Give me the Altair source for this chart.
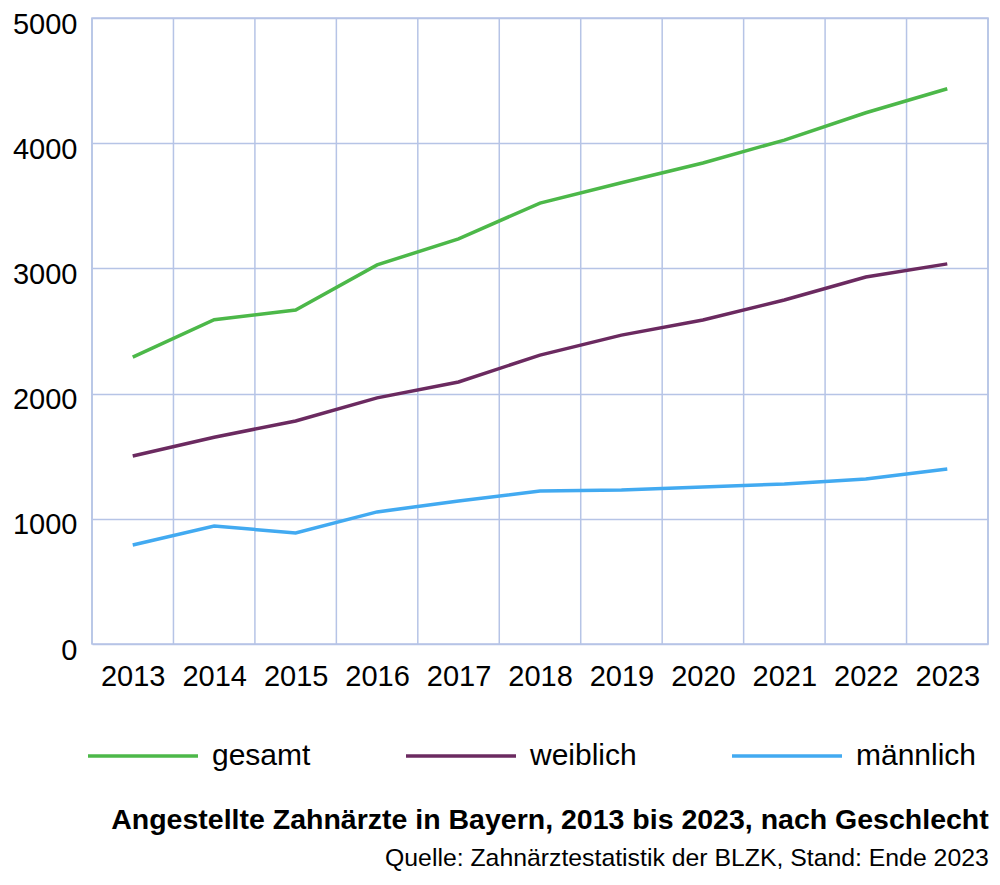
import altair as alt
import pandas as pd

years = [2013, 2014, 2015, 2016, 2017, 2018, 2019, 2020, 2021, 2022, 2023]
gesamt = [2292, 2590, 2668, 3028, 3236, 3522, 3684, 3842, 4025, 4243, 4435]
weiblich = [1502, 1652, 1781, 1966, 2093, 2307, 2467, 2588, 2748, 2931, 3036]
maennlich = [791, 942, 887, 1055, 1142, 1222, 1230, 1254, 1278, 1318, 1398]

series_names = ["gesamt", "weiblich", "männlich"]
series_colors = ["#4cb849", "#6b2a60", "#42aaf1"]

rows = []
for name, vals in zip(series_names, [gesamt, weiblich, maennlich]):
    for y, v in zip(years, vals):
        rows.append({"Jahr": y, "Wert": v, "Serie": name})
df = pd.DataFrame(rows)
grid_df = pd.DataFrame({"Jahr": years + [years[-1] + 1]})

FONT = "Liberation Sans"
GRID = "#b6c4e6"
FS = 29

xscale = alt.Scale(domain=[years[0] - 0.5, years[-1] + 0.5], nice=False, zero=False)
yscale = alt.Scale(domain=[0, 5000], nice=False)
xaxis = alt.Axis(values=years, format="d", title=None, grid=False,
                 ticks=False, domain=False, labelFontSize=FS,
                 labelPadding=18, labelColor="#000", labelFont=FONT)

grid = alt.Chart(grid_df).transform_calculate(
    b="datum.Jahr - 0.5"
).mark_rule(color=GRID, strokeWidth=1.5).encode(
    x=alt.X("b:Q", scale=xscale, axis=xaxis)
)

lines = alt.Chart(df).mark_line(strokeWidth=3.5).encode(
    x=alt.X("Jahr:Q", scale=xscale, axis=xaxis),
    y=alt.Y("Wert:Q", scale=yscale,
            axis=alt.Axis(values=[0, 1000, 2000, 3000, 4000, 5000], format="d",
                          title=None, grid=True, gridColor=GRID, gridWidth=1.5,
                          ticks=False, domain=False, labelFontSize=FS,
                          labelPadding=15, labelOffset=6, labelColor="#000",
                          labelFont=FONT)),
    color=alt.Color("Serie:N", sort=series_names,
                    scale=alt.Scale(domain=series_names, range=series_colors),
                    legend=alt.Legend(title=None, orient="none", direction="horizontal",
                                      legendX=-6, legendY=681,
                                      symbolType="stroke", symbolSize=12100,
                                      symbolStrokeWidth=3.5, labelFontSize=30,
                                      labelFont=FONT, labelColor="#000",
                                      labelOffset=12, columnPadding=88,
                                      padding=0)),
    detail="Serie:N",
)

chart = alt.layer(grid, lines).properties(
    width=896,
    height=626,
    autosize=alt.AutoSizeParams(type="none"),
    padding={"left": 84, "top": 10, "right": 4, "bottom": 233},
    title=alt.TitleParams(
        text="Angestellte Zahnärzte in Bayern, 2013 bis 2023, nach Geschlecht",
        subtitle="Quelle: Zahnärztestatistik der BLZK, Stand: Ende 2023",
        orient="bottom", anchor="end", font=FONT, fontSize=28.5, fontWeight="bold",
        subtitleFont=FONT, subtitleFontSize=24.8, subtitleColor="#000",
        color="#000", offset=35, subtitlePadding=11,
    ),
).configure_view(stroke=GRID, strokeWidth=1.5)

chart.save("out.html", embed_options={"renderer": "svg", "actions": False})
